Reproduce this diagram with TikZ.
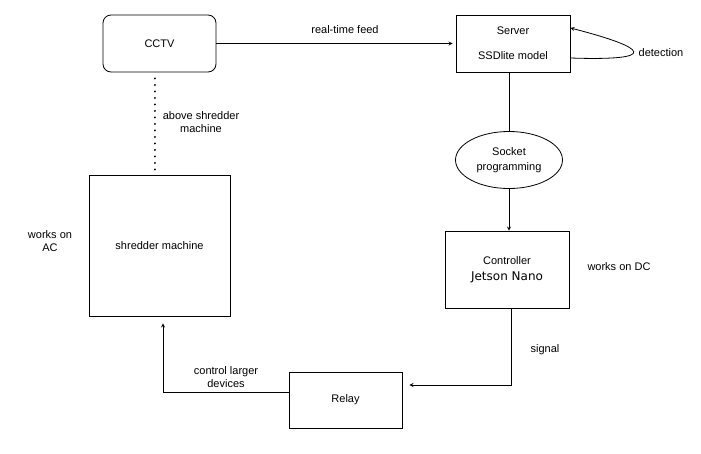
\documentclass[tikz,border=0pt]{standalone}
\usepackage{fontspec}
\setmainfont{Liberation Sans}
\newfontfamily\jetsonfont{DejaVu Sans}
\usetikzlibrary{arrows, shapes.geometric, positioning}
\tikzset{>=stealth}

\begin{document}
\begin{tikzpicture}[>=stealth, x=1pt, y=-1pt, line width=0.8pt,
    font=\fontsize{11}{13}\selectfont,
    box/.style={draw, align=center, inner sep=0pt}]
		\useasboundingbox (0,0) rectangle (701,453);
		\node[box, rounded corners=8pt, minimum width=113pt, minimum height=57pt] (cctv) at (159.5,43.5) {CCTV};
		\node[box, minimum width=114pt, minimum height=57pt] (srv) at (513,43.5) {Server\\[12pt]SSDlite model};
		\node[draw, ellipse, align=center, minimum width=107pt, minimum height=57pt, inner sep=0pt] (sock) at (509,160) {Socket\\[2pt]programming};
		\node[box, minimum width=124pt, minimum height=77pt] (ctrl) at (507,269.5) {Controller\\[3pt]{\jetsonfont\fontsize{12}{14}\selectfont Jetson Nano}};
		\node[box, minimum width=113pt, minimum height=56pt] (relay) at (345.5,400) {Relay};
		\node[box, minimum width=141pt, minimum height=141pt] (shred) at (159.5,245.5) {shredder machine};
		\node (feed) at (345,30) {real-time feed};
		\node[align=center] (above) at (201,122) {above shredder\\machine};
		\node (detect) at (661,53) {detection};
		\node[align=center] (ac) at (50,241) {works on\\AC};
		\node (dc) at (619,267) {works on DC};
		\node (sig) at (545,350) {signal};
		\node[align=center] (larger) at (226,377) {control larger\\devices};
		\draw [->, shorten >=3pt] (cctv) -- (srv);
		\draw [line width=2pt, dash pattern=on 0.1pt off 6.4pt, line cap=round] ([xshift=-5pt,yshift=-6pt]cctv.south) -- ([xshift=-5pt,yshift=5pt]shred.north);
		\draw [->] ([yshift=-14.5pt]srv.east) .. controls +(90,3) and +(78,20) .. ([yshift=15.5pt]srv.east);
		\draw (sock.north |- srv.south) -- (sock.north);
		\draw [->] (sock.south) -- (sock.south |- ctrl.north);
		\draw [->, shorten >=7pt] ([xshift=4pt]ctrl.south) |- ([yshift=15pt]relay.east);
		\draw [->, shorten >=7pt] ([yshift=8pt]relay.west) -| ([xshift=3.5pt]shred.south);
		\end{tikzpicture}
\end{document}
